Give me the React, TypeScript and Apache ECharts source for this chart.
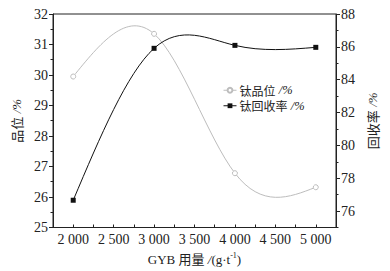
import React, { useEffect, useRef } from "react";
import * as echarts from "echarts";

// ---- data ----
const xValues = [2000, 3000, 4000, 5000];
const gradeValues = [29.95, 31.35, 26.78, 26.32];
const recoveryValues = [76.66, 85.91, 86.09, 85.97];
const rightMajorTicks = [76, 78, 80, 82, 84, 86, 88];
const rightMinorTicks = [75, 77, 79, 81, 83, 85, 87];
const gradeName = "钛品位";
const recoveryName = "钛回收率";

const SERIF = "'Liberation Serif', 'Times New Roman', 'Noto Sans CJK SC', serif";
const CJK = "'Noto Sans CJK SC', sans-serif";
const INK = "#222";

// natural cubic spline slopes at knots
function splineSlopes(xs: number[], ys: number[]): number[] {
  const n = xs.length;
  const h: number[] = [];
  for (let i = 0; i < n - 1; i++) h.push(xs[i + 1] - xs[i]);
  const M = new Array(n).fill(0);
  if (n > 2) {
    const a: number[] = [], b: number[] = [], c: number[] = [], d: number[] = [];
    for (let i = 1; i < n - 1; i++) {
      a.push(h[i - 1]);
      b.push(2 * (h[i - 1] + h[i]));
      c.push(h[i]);
      d.push(6 * ((ys[i + 1] - ys[i]) / h[i] - (ys[i] - ys[i - 1]) / h[i - 1]));
    }
    const m = b.length;
    for (let i = 1; i < m; i++) {
      const w = a[i] / b[i - 1];
      b[i] -= w * c[i - 1];
      d[i] -= w * d[i - 1];
    }
    const sol = new Array(m).fill(0);
    sol[m - 1] = d[m - 1] / b[m - 1];
    for (let i = m - 2; i >= 0; i--) sol[i] = (d[i] - c[i] * sol[i + 1]) / b[i];
    for (let i = 0; i < m; i++) M[i + 1] = sol[i];
  }
  const s: number[] = [];
  for (let i = 0; i < n - 1; i++) {
    s.push((ys[i + 1] - ys[i]) / h[i] - (h[i] * (2 * M[i] + M[i + 1])) / 6);
  }
  s.push((ys[n - 1] - ys[n - 2]) / h[n - 2] + (h[n - 2] * (M[n - 2] + 2 * M[n - 1])) / 6);
  return s;
}

function splineSeries(name: string, ys: number[], yAxisIndex: number, color: string) {
  const slopes = splineSlopes(xValues, ys);
  return {
    type: "custom",
    name,
    xAxisIndex: 0,
    yAxisIndex,
    z: 2,
    data: xValues.map((x, i) => [x, ys[i]]),
    renderItem: (params: any, api: any) => {
      const i = params.dataIndex;
      if (i >= xValues.length - 1) return null;
      const x0 = xValues[i], x1 = xValues[i + 1];
      const hh = x1 - x0;
      const p0 = api.coord([x0, ys[i]]);
      const p1 = api.coord([x1, ys[i + 1]]);
      const c1 = api.coord([x0 + hh / 3, ys[i] + (slopes[i] * hh) / 3]);
      const c2 = api.coord([x1 - hh / 3, ys[i + 1] - (slopes[i + 1] * hh) / 3]);
      return {
        type: "bezierCurve",
        shape: {
          x1: p0[0], y1: p0[1], x2: p1[0], y2: p1[1],
          cpx1: c1[0], cpy1: c1[1], cpx2: c2[0], cpy2: c2[1],
        },
        style: { stroke: color, lineWidth: 1, fill: "none" },
      };
    },
  };
}

const GRAY = "#bdbdbd";
const BLACK = "#111";

const option: any = {
  animation: false,
  backgroundColor: "#fff",
  grid: {
    left: 53, right: 54, top: 14, bottom: 39,
    show: true, borderColor: INK, borderWidth: 1, backgroundColor: "transparent",
  },
  legend: {
    orient: "vertical",
    left: 218,
    top: 79,
    itemWidth: 13,
    itemHeight: 6,
    itemGap: 3,
    data: [gradeName, recoveryName],
    lineStyle: { opacity: 1, width: 1 },
    formatter: (n: string) => `{n|${n}} {u|/%}`,
    textStyle: {
      color: INK,
      padding: [0, 0, 0, -2],
      lineHeight: 12,
      rich: {
        n: { fontFamily: CJK, fontSize: 12, lineHeight: 12, color: INK },
        u: { fontFamily: SERIF, fontSize: 12.5, lineHeight: 12, fontStyle: "italic", color: INK },
      },
    },
  },
  xAxis: {
    type: "value",
    min: 1750,
    max: 5250,
    interval: 250,
    splitLine: { show: false },
    axisLine: { lineStyle: { color: INK, width: 1 } },
    axisTick: { inside: true, length: 3, lineStyle: { color: INK } },
    axisLabel: {
      margin: 5,
      color: INK,
      fontFamily: SERIF,
      fontSize: 14,
      formatter: (v: number) =>
        v % 500 === 0 ? `${Math.floor(v / 1000)} ${String(v % 1000).padStart(3, "0")}` : "",
    },
    name: "{a|GYB 用量 }{i|/}{a|(g·t}{s|-1}{a|)}",
    nameLocation: "middle",
    nameGap: 24,
    nameTextStyle: {
      rich: {
        a: { fontFamily: SERIF, fontSize: 13, color: INK, lineHeight: 16 },
        i: { fontFamily: SERIF, fontSize: 13, color: INK, lineHeight: 16, fontStyle: "italic" },
        s: { fontFamily: SERIF, fontSize: 8, color: INK, lineHeight: 10, verticalAlign: "top" },
      },
    },
  },
  yAxis: [
    {
      type: "value",
      position: "left",
      min: 25,
      max: 32,
      interval: 1,
      splitLine: { show: false },
      axisLine: { show: true, lineStyle: { color: INK, width: 1 } },
      axisTick: { show: true, inside: false, length: 4, lineStyle: { color: INK } },
      minorTick: { show: true, splitNumber: 2, length: 2.5, lineStyle: { color: INK } },
      axisLabel: { margin: 5, color: INK, fontFamily: SERIF, fontSize: 14 },
      name: "{n|品位} {u|/%}",
      nameLocation: "middle",
      nameGap: 28,
      nameTextStyle: {
        rich: {
          n: { fontFamily: CJK, fontSize: 13, color: INK },
          u: { fontFamily: SERIF, fontSize: 13, fontStyle: "italic", color: INK },
        },
      },
    },
    {
      type: "value",
      position: "right",
      min: 75,
      max: 88,
      interval: 1,
      splitLine: { show: false },
      axisLine: { show: true, lineStyle: { color: INK, width: 1 } },
      axisTick: { show: true, inside: false, length: 4, customValues: rightMajorTicks, lineStyle: { color: INK } },
      axisLabel: { margin: 5, color: INK, fontFamily: SERIF, fontSize: 14, customValues: rightMajorTicks },
      name: "{n|回收率} {u|/%}",
      nameLocation: "middle",
      nameGap: 27,
      nameTextStyle: {
        rich: {
          n: { fontFamily: CJK, fontSize: 13, color: INK },
          u: { fontFamily: SERIF, fontSize: 13, fontStyle: "italic", color: INK },
        },
      },
    },
    {
      type: "value",
      position: "right",
      min: 75,
      max: 88,
      interval: 1,
      splitLine: { show: false },
      axisLine: { show: false },
      axisTick: { show: true, inside: false, length: 2.5, customValues: rightMinorTicks, lineStyle: { color: INK } },
      axisLabel: { show: false },
    },
  ],
  series: [
    splineSeries("gradeCurve", gradeValues, 0, GRAY),
    splineSeries("recoveryCurve", recoveryValues, 1, BLACK),
    {
      type: "line",
      name: gradeName,
      xAxisIndex: 0,
      yAxisIndex: 0,
      z: 5,
      data: xValues.map((x, i) => [x, gradeValues[i]]),
      symbol: "circle",
      symbolSize: 5,
      showSymbol: true,
      itemStyle: { color: "#fff", borderColor: GRAY, borderWidth: 1 },
      lineStyle: { color: GRAY, width: 1, opacity: 0 },
    },
    {
      type: "line",
      name: recoveryName,
      xAxisIndex: 0,
      yAxisIndex: 1,
      z: 5,
      data: xValues.map((x, i) => [x, recoveryValues[i]]),
      symbol: "rect",
      symbolSize: 5,
      showSymbol: true,
      itemStyle: { color: BLACK },
      lineStyle: { color: BLACK, width: 1, opacity: 0 },
    },
  ],
};

export default function App() {
  const ref = useRef<HTMLDivElement>(null);
  useEffect(() => {
    if (!ref.current) return;
    const chart = echarts.init(ref.current, null, { renderer: "svg" });
    chart.setOption(option);
    return () => chart.dispose();
  }, []);
  return (
    <div
      ref={ref}
      style={{ position: "absolute", left: 0, top: 0, width: 390, height: 271 }}
    />
  );
}
